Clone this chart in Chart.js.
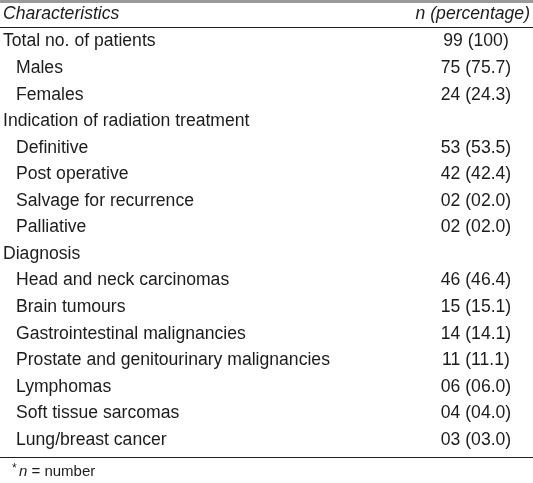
<!DOCTYPE html>
<html>
<head>
<meta charset="utf-8">
<script src="https://cdn.jsdelivr.net/npm/chart.js@4/dist/chart.umd.min.js"></script>
<style>
  html, body { margin: 0; padding: 0; background: #fff; }
  #wrap { width: 533px; height: 483px; position: relative; }
</style>
</head>
<body>
<div id="wrap"><canvas id="tableChart"></canvas></div>
<script>
// Table content
const headerLeft = 'Characteristics';
const headerRight = 'n (percentage)';
const rowLabels = [
    'Total no. of patients',
    'Males',
    'Females',
    'Indication of radiation treatment',
    'Definitive',
    'Post operative',
    'Salvage for recurrence',
    'Palliative',
    'Diagnosis',
    'Head and neck carcinomas',
    'Brain tumours',
    'Gastrointestinal malignancies',
    'Prostate and genitourinary malignancies',
    'Lymphomas',
    'Soft tissue sarcomas',
    'Lung/breast cancer'
];
// 0 = group row, 1 = sub row
const rowLevels = [0, 1, 1, 0, 1, 1, 1, 1, 0, 1, 1, 1, 1, 1, 1, 1];
const counts = [99, 75, 24, null, 53, 42, 2, 2, null, 46, 15, 14, 11, 6, 4, 3];
const percents = [100, 75.7, 24.3, null, 53.5, 42.4, 2.0, 2.0, null, 46.4, 15.1, 14.1, 11.1, 6.0, 4.0, 3.0];

const textColor = '#1e1b1c';
const fontFamily = '"Liberation Sans", Arial, sans-serif';
const fontSize = 17.6;

function formatCell(i) {
    if (counts[i] === null) return '';
    const n = String(counts[i]).padStart(2, '0');
    const p = percents[i] === 100 ? '100' : percents[i].toFixed(1).padStart(4, '0');
    return `${n} (${p})`;
}

// Draw the table cells on the category scale
const tablePlugin = {
    id: 'tablePlugin',
    afterDraw(chart) {
        const ctx = chart.ctx;
        const x = chart.scales.x;
        const y = chart.scales.y;
        const W = chart.width;
        ctx.save();
        // top gray band
        ctx.fillStyle = '#9a9a9a';
        ctx.fillRect(0, 0, W, 3);

        ctx.fillStyle = textColor;
        ctx.textBaseline = 'middle';

        // header
        const yh = y.getPixelForValue(0);
        ctx.font = `italic ${fontSize}px ${fontFamily}`;
        ctx.textAlign = 'left';
        ctx.fillText(headerLeft, x.getPixelForValue(3), yh);
        ctx.textAlign = 'right';
        ctx.fillText(headerRight, x.getPixelForValue(530), yh);

        // line under header
        const yl = Math.round((y.getPixelForValue(0) + y.getPixelForValue(1)) / 2) + 0.5;
        ctx.strokeStyle = '#231f20';
        ctx.lineWidth = 1.2;
        ctx.beginPath();
        ctx.moveTo(0, yl);
        ctx.lineTo(W, yl);
        ctx.stroke();

        // rows
        ctx.font = `${fontSize}px ${fontFamily}`;
        rowLabels.forEach((label, i) => {
            const yp = y.getPixelForValue(i + 1) + 1;
            ctx.textAlign = 'left';
            ctx.fillText(label, x.getPixelForValue(rowLevels[i] ? 16 : 3), yp);
            ctx.textAlign = 'center';
            ctx.fillText(formatCell(i), x.getPixelForValue(476), yp);
        });

        // bottom line
        const last = y.getPixelForValue(rowLabels.length);
        const yb = Math.round(last + 18) + 0.5;
        ctx.beginPath();
        ctx.moveTo(0, yb);
        ctx.lineTo(W, yb);
        ctx.stroke();

        // footnote
        const yf = yb + 14;
        ctx.textAlign = 'left';
        ctx.font = `12px ${fontFamily}`;
        ctx.fillText('*', 12, yf - 3);
        ctx.font = `italic 15px ${fontFamily}`;
        ctx.fillText('n', 19, yf);
        const nw = ctx.measureText('n').width;
        ctx.font = `15px ${fontFamily}`;
        ctx.fillText(' = number', 19 + nw, yf);
        ctx.restore();
    }
};

const categories = [headerLeft].concat(rowLabels);

new Chart(document.getElementById('tableChart'), {
    type: 'bar',
    data: {
        labels: categories,
        datasets: [{ data: [], backgroundColor: 'rgba(0,0,0,0)' }]
    },
    options: {
        indexAxis: 'y',
        responsive: true,
        maintainAspectRatio: false,
        animation: false,
        layout: { padding: { top: 0.7, bottom: 30.7, left: 0, right: 0 } },
        plugins: { legend: { display: false }, tooltip: { enabled: false } },
        scales: {
            x: { type: 'linear', min: 0, max: 533, display: false },
            y: { type: 'category', display: false, offset: true }
        }
    },
    plugins: [tablePlugin]
});
</script>
</body>
</html>
